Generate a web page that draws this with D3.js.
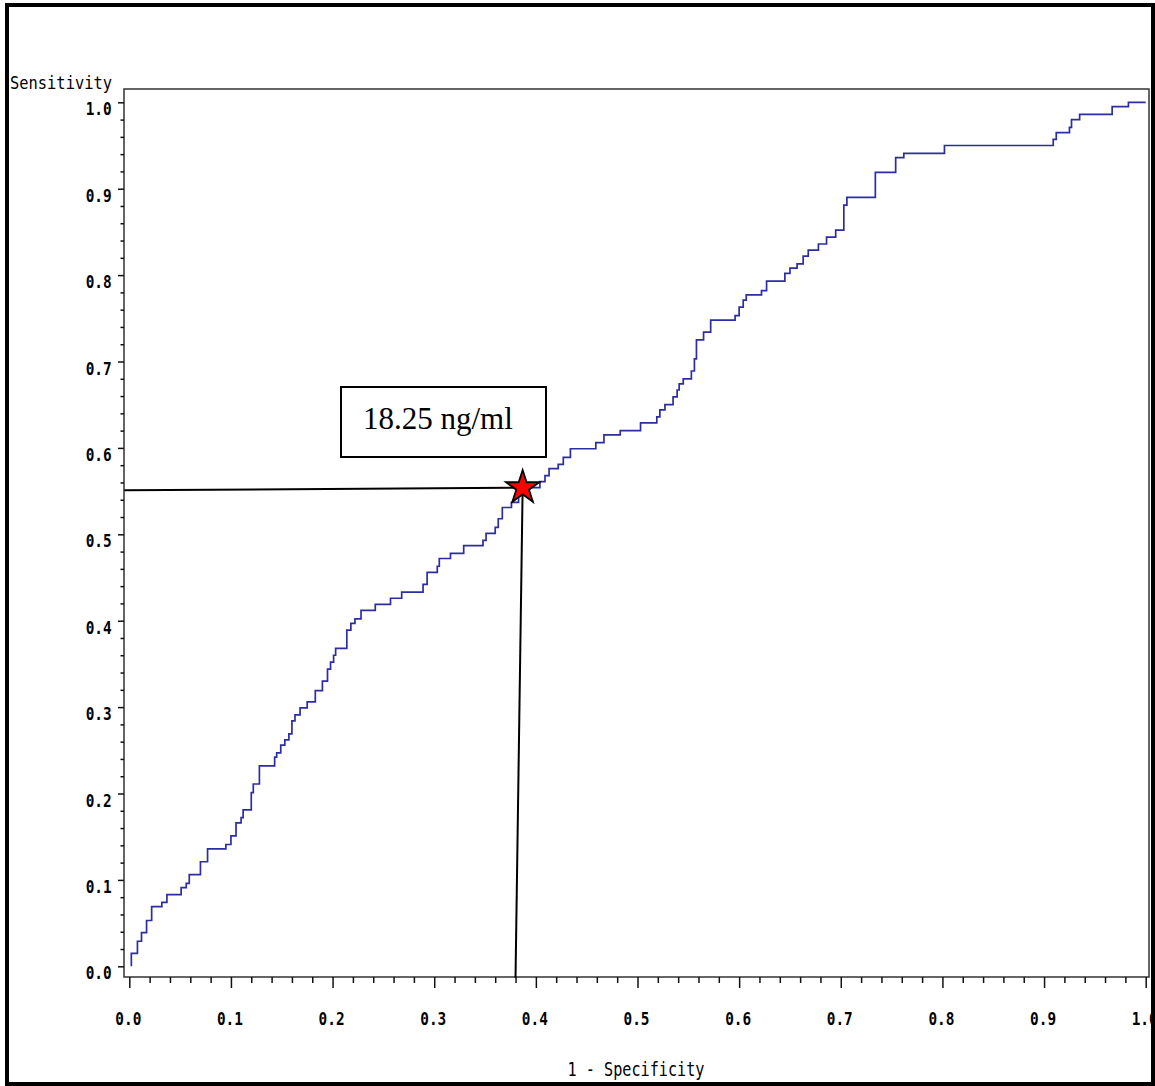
<!DOCTYPE html>
<html>
<head>
<meta charset="utf-8">
<script src="https://cdn.jsdelivr.net/npm/d3@7"></script>
<style>
  body { margin: 0; background: #fff; }
  svg { display: block; }
</style>
</head>
<body>
<svg id="chart" width="1155" height="1086"></svg>
<script>
// ROC curve corners (step after): 1 - specificity, sensitivity
const fpr = [
  0.002, 0.002, 0.008, 0.012, 0.017, 0.022, 0.032, 0.037, 0.051, 0.056,
  0.059, 0.070, 0.077, 0.095, 0.100, 0.105, 0.110, 0.112, 0.120, 0.122,
  0.128, 0.143, 0.145, 0.149, 0.153, 0.157, 0.160, 0.163, 0.168, 0.175,
  0.183, 0.190, 0.195, 0.198, 0.201, 0.203, 0.214, 0.218, 0.222, 0.228,
  0.242, 0.257, 0.268, 0.289, 0.293, 0.303, 0.305, 0.316, 0.329, 0.348,
  0.351, 0.360, 0.363, 0.367, 0.376, 0.383, 0.392, 0.404, 0.409, 0.413,
  0.422, 0.427, 0.434, 0.459, 0.467, 0.483, 0.503, 0.519, 0.522, 0.527,
  0.535, 0.539, 0.541, 0.545, 0.553, 0.556, 0.558, 0.565, 0.572, 0.596,
  0.600, 0.604, 0.607, 0.622, 0.627, 0.645, 0.650, 0.657, 0.663, 0.668,
  0.678, 0.686, 0.695, 0.703, 0.706, 0.734, 0.754, 0.762, 0.802, 0.909,
  0.912, 0.925, 0.927, 0.935, 0.967, 0.983, 1.000,
];
const tpr = [
  0.000, 0.015, 0.029, 0.039, 0.053, 0.069, 0.074, 0.083, 0.091, 0.096,
  0.106, 0.121, 0.136, 0.141, 0.151, 0.166, 0.172, 0.181, 0.201, 0.211,
  0.232, 0.242, 0.247, 0.256, 0.262, 0.269, 0.284, 0.291, 0.299, 0.306,
  0.319, 0.330, 0.344, 0.352, 0.360, 0.368, 0.389, 0.397, 0.402, 0.412,
  0.419, 0.426, 0.433, 0.442, 0.456, 0.463, 0.472, 0.478, 0.487, 0.493,
  0.501, 0.508, 0.518, 0.531, 0.537, 0.545, 0.554, 0.561, 0.568, 0.576,
  0.581, 0.589, 0.599, 0.606, 0.615, 0.620, 0.629, 0.636, 0.644, 0.650,
  0.659, 0.667, 0.674, 0.680, 0.689, 0.703, 0.725, 0.734, 0.748, 0.753,
  0.763, 0.771, 0.777, 0.782, 0.793, 0.802, 0.808, 0.813, 0.822, 0.829,
  0.836, 0.844, 0.852, 0.881, 0.890, 0.919, 0.936, 0.941, 0.950, 0.957,
  0.965, 0.971, 0.980, 0.986, 0.995, 1.000, 1.000,
];

const majorTicks = [0, 0.1, 0.2, 0.3, 0.4, 0.5, 0.6, 0.7, 0.8, 0.9, 1.0];
const minorTicks = d3.range(0, 51).map(i => i / 50).filter(v => Math.round(v * 50) % 5 !== 0);

// cut-off point and its guide lines
const cutoffLabel = '18.25 ng/ml';
const cutoffPoint = [0.387, 0.554];
const guideH = [[-0.005, 0.551], [0.387, 0.554]];
const guideV = [[0.387, 0.554], [0.380, -0.013]];

const X_LABEL = '1 - Specificity';
const Y_LABEL = 'Sensitivity';

const FRAME = { left: 124, top: 89, right: 1149, bottom: 977 };
const CURVE_COLOR = '#2d2da2';
const MONO = '"DejaVu Sans Mono", monospace';

const svg = d3.select('#chart');

const x = d3.scaleLinear().domain([0, 1]).range([129.3, 1145.7]);
const y = d3.scaleLinear().domain([0, 1]).range([966.3, 102.3]);

// plot frame
svg.append('rect')
  .attr('x', FRAME.left)
  .attr('y', FRAME.top)
  .attr('width', FRAME.right - FRAME.left)
  .attr('height', FRAME.bottom - FRAME.top)
  .attr('fill', 'none')
  .attr('stroke', '#333')
  .attr('stroke-width', 1.5);

const styleAxis = (g) => {
  g.select('.domain').remove();
  g.selectAll('line').attr('stroke', '#111').attr('stroke-width', 1.5);
};

const styleLabels = (sel) => sel
  .attr('dy', null)
  .attr('fill', '#000')
  .attr('font-family', MONO)
  .attr('font-weight', 'bold')
  .attr('font-size', 18)
  .attr('textLength', 26)
  .attr('lengthAdjust', 'spacingAndGlyphs');

// x axis
svg.append('g')
  .attr('transform', `translate(0, ${FRAME.bottom})`)
  .call(d3.axisBottom(x).tickValues(minorTicks).tickSize(6).tickFormat(''))
  .call(styleAxis);

svg.append('g')
  .attr('transform', `translate(0, ${FRAME.bottom})`)
  .call(d3.axisBottom(x).tickValues(majorTicks).tickSize(11).tickFormat(d3.format('.1f')))
  .call(styleAxis)
  .call((g) => g.selectAll('text')
    .call(styleLabels)
    .attr('y', 48)
    .attr('x', -1.5));

// y axis
svg.append('g')
  .attr('transform', `translate(${FRAME.left}, 0)`)
  .call(d3.axisLeft(y).tickValues(minorTicks).tickSize(3.5).tickFormat(''))
  .call(styleAxis);

svg.append('g')
  .attr('transform', `translate(${FRAME.left}, 0)`)
  .call(d3.axisLeft(y).tickValues(majorTicks).tickSize(6).tickFormat(d3.format('.1f')))
  .call(styleAxis)
  .call((g) => g.selectAll('text')
    .call(styleLabels)
    .attr('x', -12.3)
    .attr('y', 12.5));

// axis titles
svg.append('text')
  .attr('x', 10)
  .attr('y', 89)
  .attr('font-family', MONO)
  .attr('font-size', 18)
  .attr('textLength', 102)
  .attr('lengthAdjust', 'spacingAndGlyphs')
  .text(Y_LABEL);

svg.append('text')
  .attr('x', 636)
  .attr('y', 1076)
  .attr('text-anchor', 'middle')
  .attr('font-family', MONO)
  .attr('font-size', 19)
  .attr('textLength', 137)
  .attr('lengthAdjust', 'spacingAndGlyphs')
  .text(X_LABEL);

// ROC curve
const points = fpr.map((f, i) => [f, tpr[i]]);
svg.append('path')
  .datum(points)
  .attr('fill', 'none')
  .attr('stroke', CURVE_COLOR)
  .attr('stroke-width', 1.7)
  .attr('d', d3.line().x(d => x(d[0])).y(d => y(d[1])).curve(d3.curveStepAfter));

// guide lines to the cut-off
const guide = d3.line().x(d => x(d[0])).y(d => y(d[1]));
[guideH, guideV].forEach((seg) => {
  svg.append('path')
    .datum(seg)
    .attr('fill', 'none')
    .attr('stroke', '#000')
    .attr('stroke-width', 2)
    .attr('d', guide);
});

// label box
const label = svg.append('g');
label.append('rect')
  .attr('x', 341)
  .attr('y', 387)
  .attr('width', 205)
  .attr('height', 70)
  .attr('fill', '#fff')
  .attr('stroke', '#000')
  .attr('stroke-width', 2);
label.append('text')
  .attr('x', 363)
  .attr('y', 429)
  .attr('font-family', '"Liberation Serif", "Times New Roman", serif')
  .attr('font-size', 31)
  .text(cutoffLabel);

// star at the cut-off
svg.append('path')
  .attr('d', d3.symbol(d3.symbolStar, 345)())
  .attr('transform', `translate(${x(cutoffPoint[0])}, ${y(cutoffPoint[1])})`)
  .attr('fill', '#ff0000')
  .attr('stroke', '#000')
  .attr('stroke-width', 1.8);

// outer border, drawn last so it covers the clipped "1.0" like the original
svg.append('rect')
  .attr('x', 7)
  .attr('y', 5)
  .attr('width', 1146)
  .attr('height', 1079)
  .attr('fill', 'none')
  .attr('stroke', '#000')
  .attr('stroke-width', 4);
</script>
</body>
</html>
